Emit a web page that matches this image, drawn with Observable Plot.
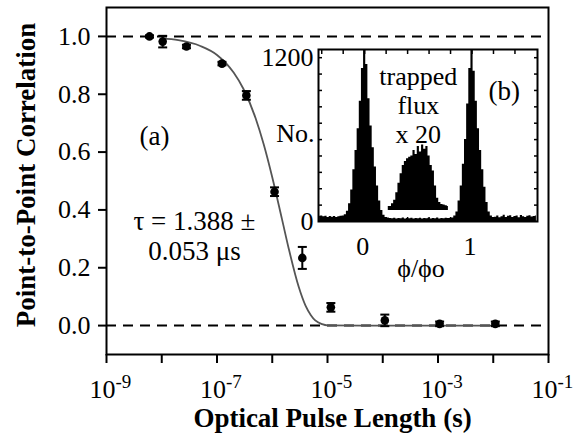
<!DOCTYPE html>
<html><head><meta charset="utf-8">
<script src="https://cdn.jsdelivr.net/npm/d3@7"></script>
<script src="https://cdn.jsdelivr.net/npm/@observablehq/plot@0.6"></script>
<style>
html,body{margin:0;padding:0;background:#fff}
#wrap{position:relative;width:576px;height:433px;overflow:hidden;background:#fff}
#wrap svg, #wrap svg text{font-family:"Liberation Serif","Times New Roman",serif !important}
#inset{position:absolute;left:240px;top:40px}
</style>
</head><body><div id="wrap"></div>
<script>
// ---- main panel (a) data ----
const pulseLength = [6e-9, 1.04e-8, 2.8e-8, 1.23e-7, 3.4e-7, 1.1e-6, 3.5e-6, 1.15e-5, 1.09e-4, 1.07e-3, 1.09e-2];
const correlation = [1.0, 0.982, 0.965, 0.906, 0.796, 0.463, 0.234, 0.063, 0.018, 0.006, 0.006];
const correlationErr = [0.004, 0.02, 0.006, 0.006, 0.015, 0.015, 0.038, 0.015, 0.02, 0.008, 0.008];

// fitted curve
const fitPulseLength = [1e-8, 2e-8, 5e-8, 1e-7, 2e-7, 3e-7, 5e-7, 7e-7, 1e-6, 1.5e-6, 2e-6, 3e-6, 4e-6, 5e-6, 6e-6, 8e-6, 1e-5, 1e-4, 1e-3, 1.1e-2];
const fitCorrelation = [0.993, 0.987, 0.967, 0.936, 0.875, 0.819, 0.717, 0.627, 0.513, 0.368, 0.264, 0.135, 0.069, 0.036, 0.018, 0.005, 0.001, 0, 0, 0];

const referenceLevels = [0, 1];
const yTicks = [0, 0.2, 0.4, 0.6, 0.8, 1.0];
const xDecades = [1e-9, 1e-8, 1e-7, 1e-6, 1e-5, 1e-4, 1e-3, 1e-2, 1e-1];
const xLabelDecades = [1e-9, 1e-7, 1e-5, 1e-3, 1e-1];
const xLabelExponents = ["-9", "-7", "-5", "-3", "-1"];

// ---- inset panel (b) data ----
const phiStart = -0.42, phiStep = 0.02;
const fluxCounts = [38, 40, 35, 38, 30, 36, 32, 37, 30, 34, 38, 40,
  50, 75, 130, 230, 380, 520, 680, 880, 1120, 1300,
  1150, 900, 700, 540, 400, 260, 150, 80, 45, 30,
  25, 22, 20, 24, 18, 22, 20, 25, 18, 22, 20, 24, 19, 22, 20, 23, 18, 22, 20, 24, 19, 22, 20, 25, 18, 22, 21, 24, 22,
  22, 25, 40, 70, 150, 260, 420, 600, 860, 1120, 1300,
  1100, 880, 680, 520, 380, 250, 140, 70, 40, 30,
  32, 40, 28, 35, 45, 30, 38, 42, 30, 36, 40, 28, 44, 35, 30, 38, 42, 33, 36, 40];
const trappedStart = 0.22;
const trappedCounts = [30, 30, 50, 75, 130, 200, 270, 330, 360, 380, 390, 400, 440, 410, 470, 430, 480, 450, 470, 400, 330, 290, 180, 90, 60, 45, 40, 35, 30];
const trappedOffset = 80;
const insetXTicks = [-0.4, -0.2, 0, 0.2, 0.4, 0.6, 0.8, 1.0, 1.2, 1.4];
const insetXLabels = ["0", "1"];
const insetXLabelPos = [0, 1];
const insetYTicks = [120, 240, 360, 480, 600, 720, 840, 960, 1080, 1200];
const insetYLabels = ["0", "1200"];
const insetYLabelPos = [0, 1200];

// ---- build tables ----
const points = pulseLength.map((x, i) => ({x, y: correlation[i], e: correlationErr[i]}));
const caps = points.flatMap(d => [{x: d.x, y: d.y + d.e}, {x: d.x, y: d.y - d.e}]);
const fit = fitPulseLength.map((x, i) => ({x, y: fitCorrelation[i]}));
const capSymbol = {draw(ctx) { ctx.moveTo(-4.5, 0); ctx.lineTo(4.5, 0); }};

const serif = "Liberation Serif";

const main = Plot.plot({
  width: 576, height: 433,
  marginLeft: 106, marginRight: 28, marginTop: 7, marginBottom: 79,
  x: {type: "log", domain: [1e-9, 1e-1]},
  y: {domain: [-0.1, 1.1]},
  style: {fontFamily: serif, background: "white", color: "black"},
  marks: [
    Plot.ruleY(referenceLevels, {strokeDasharray: "10,7", strokeWidth: 2}),
    Plot.line(fit, {x: "x", y: "y", curve: "monotone-x", stroke: "#555", strokeWidth: 1.8}),
    Plot.ruleX(points, {x: "x", y1: d => d.y - d.e, y2: d => d.y + d.e, strokeWidth: 2}),
    Plot.dot(caps, {x: "x", y: "y", symbol: capSymbol, stroke: "black", strokeWidth: 2, fill: "none"}),
    Plot.dot(points, {x: "x", y: "y", r: 4.3, fill: "black"}),
    Plot.frame({strokeWidth: 2}),
    Plot.axisY({ticks: yTicks, tickFormat: ".1f", tickSize: 8, tickPadding: 8, strokeWidth: 2, fontSize: 26, fontFamily: serif, label: null}),
    Plot.axisX({ticks: xDecades, tickFormat: () => "", tickSize: 9, strokeWidth: 2, label: null}),
    Plot.text(xLabelDecades, {x: d => d, frameAnchor: "bottom", lineAnchor: "middle", text: () => "10", textAnchor: "end", dx: 9, dy: 35, fontSize: 26, fontFamily: serif}),
    Plot.text(xLabelDecades, {x: d => d, frameAnchor: "bottom", lineAnchor: "middle", text: (d, i) => xLabelExponents[i], textAnchor: "start", dx: 9, dy: 27, fontSize: 19, fontFamily: serif}),
    Plot.text(["Point-to-Point Correlation"], {frameAnchor: "left", textAnchor: "middle", lineAnchor: "middle", dx: -80, dy: -6, rotate: -90, fontSize: 27, fontWeight: "bold", fontFamily: serif}),
    Plot.text(["Optical Pulse Length (s)"], {frameAnchor: "bottom", textAnchor: "middle", lineAnchor: "middle", dx: 5, dy: 64, fontSize: 27, fontWeight: "bold", fontFamily: serif}),
    Plot.text(["(a)"], {x: 7.4e-9, y: 0.654, fontSize: 27, fontFamily: serif}),
    Plot.text(["τ = 1.388 ±\n0.053 μs"], {x: 3.9e-8, y: 0.311, fontSize: 27, lineHeight: 1.1, fontFamily: serif})
  ]
});

const flux = fluxCounts.map((c, i) => ({phi: phiStart + phiStep * i, c}));
const trapped = trappedCounts.map((c, i) => ({phi: trappedStart + phiStep * i, c}));

const inset = Plot.plot({
  width: 310, height: 245,
  marginLeft: 78, marginRight: 13, marginTop: 9, marginBottom: 64,
  x: {domain: [-0.43, 1.61]},
  y: {domain: [0, 1260]},
  style: {fontFamily: serif, background: "transparent", color: "black", overflow: "visible"},
  marks: [
    Plot.areaY(flux, {x: "phi", y: "c", curve: "step", fill: "black", clip: true}),
    Plot.areaY(trapped, {x: "phi", y1: trappedOffset, y2: d => trappedOffset + d.c, curve: "step", fill: "black"}),
    Plot.frame({strokeWidth: 2}),
    Plot.axisX({anchor: "bottom", ticks: insetXTicks, tickSize: -4, tickFormat: () => "", strokeWidth: 1.5, label: null}),
    Plot.axisX({anchor: "top", ticks: insetXTicks, tickSize: -4, tickFormat: () => "", strokeWidth: 1.5, label: null}),
    Plot.axisY({anchor: "left", ticks: insetYTicks, tickSize: -4, tickFormat: () => "", strokeWidth: 1.5, label: null}),
    Plot.axisY({anchor: "right", ticks: insetYTicks, tickSize: -4, tickFormat: () => "", strokeWidth: 1.5, label: null}),
    Plot.text(insetXLabelPos, {x: d => d, text: (d, i) => insetXLabels[i], frameAnchor: "bottom", textAnchor: "middle", lineAnchor: "middle", dx: -2, dy: 25, fontSize: 26, fontFamily: serif}),
    Plot.text(insetYLabelPos, {y: d => d, text: (d, i) => insetYLabels[i], frameAnchor: "left", textAnchor: "end", lineAnchor: "middle", dx: -5, fontSize: 26, fontFamily: serif}),
    Plot.text(["No."], {frameAnchor: "left", textAnchor: "end", lineAnchor: "middle", dx: -4, dy: -2, fontSize: 26, fontFamily: serif}),
    Plot.text(["ϕ/ϕo"], {frameAnchor: "bottom", textAnchor: "middle", lineAnchor: "middle", dx: -7, dy: 47, fontSize: 26, fontFamily: serif}),
    Plot.text(["trapped\nflux\nx 20"], {x: 0.5, y: 856, fontSize: 26, lineHeight: 1.12, fontFamily: serif}),
    Plot.text(["(b)"], {x: 1.3, y: 951, fontSize: 27, fontFamily: serif})
  ]
});
inset.id = "inset";

const wrap = document.getElementById("wrap");
wrap.appendChild(main);
wrap.appendChild(inset);
</script></body></html>
